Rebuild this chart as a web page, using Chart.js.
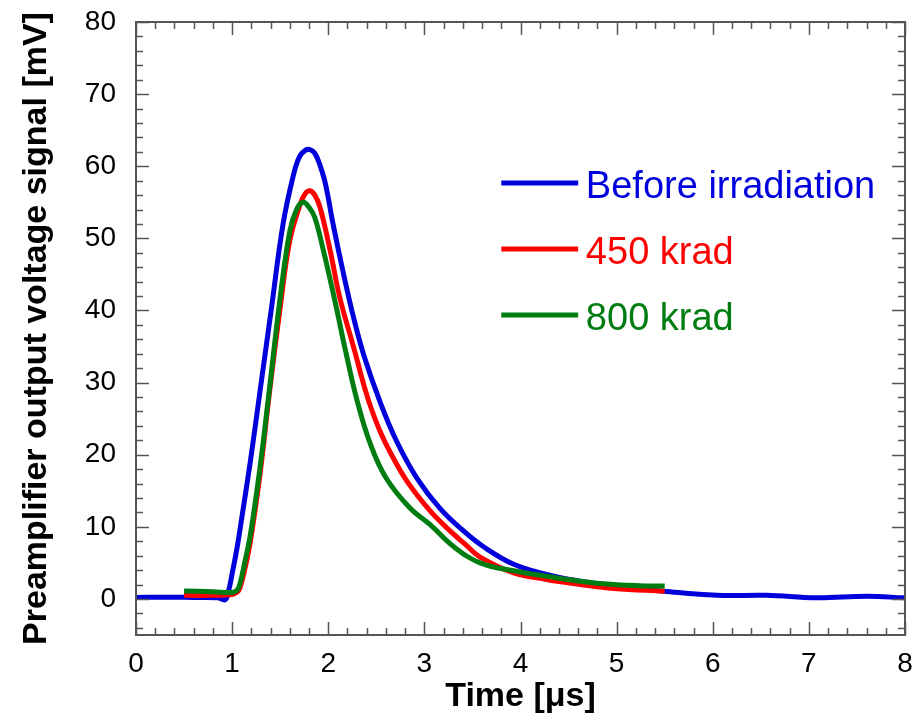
<!DOCTYPE html>
<html>
<head>
<meta charset="utf-8">
<script src="https://cdn.jsdelivr.net/npm/chart.js@4.4.1/dist/chart.umd.min.js"></script>
<style>
html,body{margin:0;padding:0;background:#fff;}
#wrap{width:916px;height:721px;}
</style>
</head>
<body>
<div id="wrap"><canvas id="c" width="916" height="721"></canvas></div>
<script>
// ---- data (time in µs, signal in mV) ----
const seriesNames = ["Before irradiation", "450 krad", "800 krad"];
const blueT = [0, 0.3, 0.6, 0.85, 0.93, 0.97, 1.0, 1.05, 1.10, 1.19, 1.29, 1.41, 1.53, 1.64, 1.70, 1.76, 1.81, 1.86, 1.91, 1.97, 2.05, 2.16, 2.26, 2.37, 2.54, 2.71, 2.92, 3.16, 3.41, 3.62, 3.93, 4.27, 4.62, 4.97, 5.49, 6.04, 6.56, 7.08, 7.6, 8.0];
const blueV = [0.2, 0.25, 0.2, 0.15, -0.1, 1.5, 3.5, 7.0, 11.2, 19.1, 28.8, 40.4, 52.0, 58.9, 61.3, 62.2, 62.3, 61.8, 60.3, 57.6, 52.0, 45.0, 39.2, 33.8, 27.3, 21.9, 16.8, 12.6, 9.4, 7.2, 4.8, 3.4, 2.46, 1.76, 1.07, 0.5, 0.5, 0.15, 0.37, 0.15];
const redT = [0.5, 0.8, 1.0, 1.05, 1.08, 1.13, 1.19, 1.29, 1.39, 1.50, 1.60, 1.71, 1.76, 1.81, 1.86, 1.915, 2.02, 2.12, 2.27, 2.38, 2.45, 2.55, 2.65, 2.82, 3.06, 3.27, 3.44, 3.58, 3.93, 4.27, 4.62, 4.97, 5.5];
const redV = [0.5, 0.5, 0.6, 0.9, 1.5, 4.0, 8.0, 17.3, 28.8, 40.4, 49.7, 54.8, 56.2, 56.6, 56.0, 54.3, 48.3, 41.8, 34.6, 29.2, 26.3, 22.9, 20.2, 16.3, 12.2, 9.4, 7.4, 5.8, 3.6, 2.7, 2.0, 1.44, 1.07];
const greenT = [0.5, 0.8, 1.0, 1.05, 1.08, 1.13, 1.19, 1.29, 1.39, 1.50, 1.60, 1.67, 1.74, 1.80, 1.86, 1.95, 2.07, 2.18, 2.30, 2.435, 2.6, 2.85, 3.06, 3.30, 3.58, 3.93, 4.27, 4.62, 4.97, 5.3, 5.5];
const greenV = [1.1, 1.0, 0.9, 1.2, 2.0, 5.0, 8.9, 18.2, 29.3, 41.8, 51.0, 54.0, 55.0, 54.3, 52.9, 48.3, 41.3, 34.4, 27.5, 21.6, 16.8, 12.6, 10.3, 7.3, 5.0, 3.9, 3.15, 2.46, 2.0, 1.8, 1.8];
const xTickValues = [0, 1, 2, 3, 4, 5, 6, 7, 8];
const yTickValues = [0, 10, 20, 30, 40, 50, 60, 70, 80];
const xTitle = "Time [\u03bcs]";
const yTitle = "Preamplifier output voltage signal [mV]";

const colors = ["#0000dd", "#ff0000", "#007d10"];
const FONT = "Arial, 'Liberation Sans', sans-serif";

function pts(t, v) { return t.map((x, i) => ({x: x, y: v[i]})); }

const frameTicks = {
  id: 'frameTicks',
  afterDatasetsDraw(chart) {
    const ctx = chart.ctx, a = chart.chartArea;
    const xs = chart.scales.x, ys = chart.scales.y;
    ctx.save();
    ctx.strokeStyle = '#555';
    ctx.lineWidth = 2;
    ctx.strokeRect(a.left, a.top, a.right - a.left, a.bottom - a.top);
    ctx.lineWidth = 1.5;
    ctx.beginPath();
    for (let i = 0; i <= 40; i++) {
      const v = xs.min + i * 0.2;
      const px = Math.round(xs.getPixelForValue(v)) + 0.5;
      const len = (i % 5 === 0) ? 13 : 7;
      ctx.moveTo(px, a.bottom); ctx.lineTo(px, a.bottom - len);
      ctx.moveTo(px, a.top); ctx.lineTo(px, a.top + len);
    }
    for (let v = -4; v <= 80; v += 2) {
      const py = Math.round(ys.getPixelForValue(v)) + 0.5;
      const len = (v % 10 === 0) ? 13 : 7;
      ctx.moveTo(a.left, py); ctx.lineTo(a.left + len, py);
      ctx.moveTo(a.right, py); ctx.lineTo(a.right - len, py);
    }
    ctx.stroke();
    // legend
    const w = a.right - a.left;
    const x0 = a.left + 0.475 * w, x1 = a.left + 0.575 * w, xt = a.left + 0.585 * w;
    const rows = [183, 249, 315];
    ctx.font = "38px " + FONT;
    ctx.textBaseline = 'alphabetic';
    ctx.textAlign = 'left';
    seriesNames.forEach((name, i) => {
      ctx.strokeStyle = colors[i];
      ctx.lineWidth = 5;
      ctx.beginPath();
      ctx.moveTo(x0, rows[i]); ctx.lineTo(x1, rows[i]);
      ctx.stroke();
      ctx.fillStyle = colors[i];
      ctx.fillText(name, xt, rows[i] + 15);
    });
    ctx.restore();
  }
};

const ds = (label, t, v, c, order) => ({
  label: label, data: pts(t, v), borderColor: c, backgroundColor: c,
  borderWidth: 5, pointRadius: 0, fill: false, tension: 0.4, order: order
});

new Chart(document.getElementById('c'), {
  type: 'line',
  data: {
    datasets: [
      ds(seriesNames[2], greenT, greenV, colors[2], 0),
      ds(seriesNames[1], redT, redV, colors[1], 1),
      ds(seriesNames[0], blueT, blueV, colors[0], 2)
    ]
  },
  options: {
    responsive: false,
    animation: false,
    layout: {padding: {left: 0, right: 11, top: 22, bottom: 0}},
    plugins: {legend: {display: false}, tooltip: {enabled: false}},
    scales: {
      x: {
        type: 'linear', min: 0, max: 8,
        afterBuildTicks: s => { s.ticks = xTickValues.map(v => ({value: v})); },
        afterFit: s => { s.height = 86; s.paddingLeft = 0; s.paddingRight = 0; },
        grid: {display: false, drawTicks: false},
        border: {display: false},
        ticks: {color: '#000', font: {family: FONT, size: 28}, padding: 12, maxRotation: 0},
        title: {display: true, text: xTitle, color: '#000', font: {family: FONT, size: 34, weight: 'bold'}, padding: {top: 0, bottom: 4}}
      },
      y: {
        type: 'linear', min: -5, max: 80,
        afterBuildTicks: s => { s.ticks = yTickValues.map(v => ({value: v})); },
        afterFit: s => { s.width = 136; s.paddingTop = 0; s.paddingBottom = 0; },
        grid: {display: false, drawTicks: false},
        border: {display: false},
        ticks: {color: '#000', font: {family: FONT, size: 28}, padding: 20},
        title: {display: true, text: yTitle, color: '#000', font: {family: FONT, size: 34, weight: 'bold'}, padding: {top: 16, bottom: 0}}
      }
    }
  },
  plugins: [frameTicks]
});
</script>
</body>
</html>
